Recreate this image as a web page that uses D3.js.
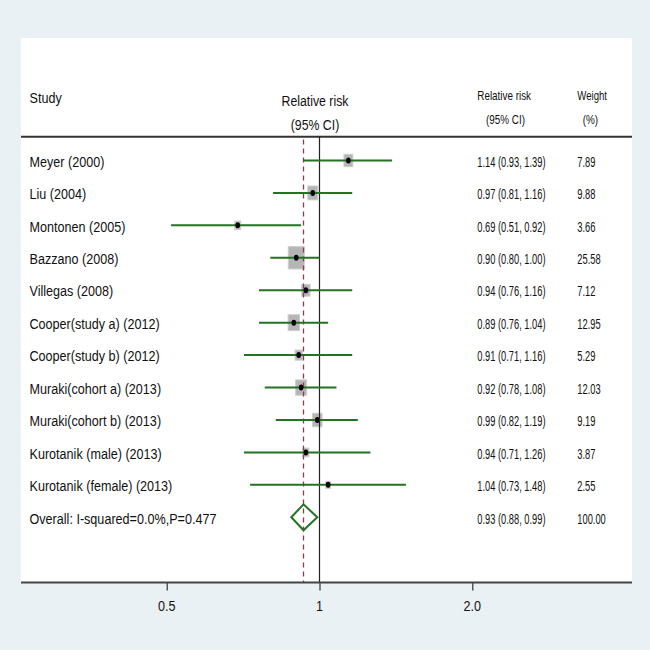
<!DOCTYPE html>
<html>
<head>
<meta charset="utf-8">
<script src="https://cdn.jsdelivr.net/npm/d3@7"></script>
<style>
  html, body { margin: 0; padding: 0; background: #eaf1f4; }
  svg { display: block; }
  text { font-family: "Liberation Sans", Arial, sans-serif; fill: #111; }
</style>
</head>
<body>
<svg id="chart" width="650" height="650"></svg>
<script>
// ---- data ----
const studies = ["Meyer (2000)", "Liu (2004)", "Montonen (2005)", "Bazzano (2008)", "Villegas (2008)",
  "Cooper(study a) (2012)", "Cooper(study b) (2012)", "Muraki(cohort a) (2013)", "Muraki(cohort b) (2013)",
  "Kurotanik (male) (2013)", "Kurotanik (female) (2013)"];
const rr    = [1.14, 0.97, 0.69, 0.90, 0.94, 0.89, 0.91, 0.92, 0.99, 0.94, 1.04];
const lower = [0.93, 0.81, 0.51, 0.80, 0.76, 0.76, 0.71, 0.78, 0.82, 0.71, 0.73];
const upper = [1.39, 1.16, 0.92, 1.00, 1.16, 1.04, 1.16, 1.08, 1.19, 1.26, 1.48];
const weights = [7.89, 9.88, 3.66, 25.58, 7.12, 12.95, 5.29, 12.03, 9.19, 3.87, 2.55];
const overallLabel = "Overall: I-squared=0.0%,P=0.477";
const overall = { rr: 0.93, lower: 0.88, upper: 0.99, weight: 100.00 };
const tickValues = [0.5, 1, 2];
const tickLabels = ["0.5", "1", "2.0"];

// ---- layout ----
const svg = d3.select("#chart");
const panel = { x0: 21, x1: 632, y0: 38, y1: 582.5 };
const headerY = 136.7;

const x = d3.scaleLog().domain([0.5, 2]).range([166.7, 472.3]);
const rowKeys = studies.concat([overallLabel]);
const y = d3.scalePoint().domain(rowKeys).range([160.5, 517.3]);
const boxW = d3.scaleSqrt().domain([0, 25.58]).range([0, 16]);
const boxH = d3.scaleSqrt().domain([0, 25.58]).range([0, 22.4]);

const green = "#237323";

function label(g, px, py, str, size, sx, anchor) {
  g.append("g").attr("transform", `translate(${px},${py}) scale(${sx},1)`)
    .append("text").attr("x", 0).attr("y", 0)
    .attr("font-size", size).attr("text-anchor", anchor || "start").text(str);
}

// panel background
svg.append("rect").attr("x", panel.x0).attr("y", panel.y0)
  .attr("width", panel.x1 - panel.x0).attr("height", panel.y1 - panel.y0).attr("fill", "#ffffff");

const g = svg.append("g");

// headers
label(g, 29.5, 103, "Study", 15, 0.84);
label(g, 315, 105.5, "Relative risk", 15, 0.82, "middle");
label(g, 315, 130, "(95% CI)", 15, 0.82, "middle");
label(g, 477.3, 100, "Relative risk", 13, 0.76);
label(g, 486, 124, "(95% CI)", 13, 0.76);
label(g, 577.3, 100, "Weight", 13, 0.74);
label(g, 582.7, 124, "(%)", 13, 0.76);

// header rule
g.append("line").attr("x1", panel.x0).attr("x2", panel.x1).attr("y1", headerY).attr("y2", headerY)
  .attr("stroke", "#333").attr("stroke-width", 2);

// boxes (under lines)
const rows = studies.map((s, i) => ({ s, rr: rr[i], lo: lower[i], hi: upper[i], w: weights[i] }));
g.selectAll("rect.box").data(rows).join("rect").attr("class", "box")
  .attr("x", d => x(d.rr) - boxW(d.w) / 2).attr("y", d => y(d.s) - boxH(d.w) / 2)
  .attr("width", d => boxW(d.w)).attr("height", d => boxH(d.w))
  .attr("fill", "#b5b5b5").attr("stroke", "#cfcfcf").attr("stroke-width", 1);

// null line at 1
g.append("line").attr("x1", x(1)).attr("x2", x(1)).attr("y1", headerY).attr("y2", panel.y1)
  .attr("stroke", "#222").attr("stroke-width", 1.2);

// overall dashed line
g.append("line").attr("x1", x(overall.rr)).attr("x2", x(overall.rr)).attr("y1", 139.5).attr("y2", panel.y1)
  .attr("stroke", "#9a3545").attr("stroke-width", 1.3).attr("stroke-dasharray", "5,4");

// CI lines
g.selectAll("line.ci").data(rows).join("line").attr("class", "ci")
  .attr("x1", d => x(d.lo)).attr("x2", d => x(d.hi))
  .attr("y1", d => y(d.s)).attr("y2", d => y(d.s))
  .attr("stroke", green).attr("stroke-width", 2);

// point estimates
g.selectAll("ellipse.pt").data(rows).join("ellipse").attr("class", "pt")
  .attr("cx", d => x(d.rr)).attr("cy", d => y(d.s)).attr("rx", 2.3).attr("ry", 3)
  .attr("fill", "#000");

// overall diamond
const oy = y(overallLabel);
g.append("path")
  .attr("d", `M${x(overall.lower)},${oy} L${x(overall.rr)},${oy - 13} L${x(overall.upper)},${oy} L${x(overall.rr)},${oy + 13} Z`)
  .attr("fill", "none").attr("stroke", green).attr("stroke-width", 2);

// row texts
const fmt = d3.format(".2f");
rows.forEach(d => {
  label(g, 29.5, y(d.s) + 6.2, d.s, 15, 0.84);
  label(g, 477.3, y(d.s) + 6.2, `${fmt(d.rr)} (${fmt(d.lo)}, ${fmt(d.hi)})`, 14, 0.665);
  label(g, 577.3, y(d.s) + 6.2, fmt(d.w), 14, 0.665);
});
label(g, 29.5, oy + 6.2, overallLabel, 15, 0.84);
label(g, 477.3, oy + 6.2, `${fmt(overall.rr)} (${fmt(overall.lower)}, ${fmt(overall.upper)})`, 14, 0.665);
label(g, 577.3, oy + 6.2, fmt(overall.weight), 14, 0.665);

// x axis
const axis = d3.axisBottom(x).tickValues(tickValues).tickFormat((d, i) => tickLabels[i])
  .tickSize(8).tickSizeOuter(0);
const ax = svg.append("g").attr("transform", `translate(0,${panel.y1})`).call(axis);
ax.select(".domain").remove();
ax.selectAll(".tick line").attr("stroke", "#333").attr("stroke-width", 1.2);
ax.selectAll(".tick text").remove();
ax.append("line").attr("x1", panel.x0).attr("x2", panel.x1).attr("y1", 0).attr("y2", 0)
  .attr("stroke", "#444").attr("stroke-width", 1.8);
tickValues.forEach((v, i) => label(ax, x(v), 28.2, tickLabels[i], 14, 0.9, "middle"));
</script>
</body>
</html>
